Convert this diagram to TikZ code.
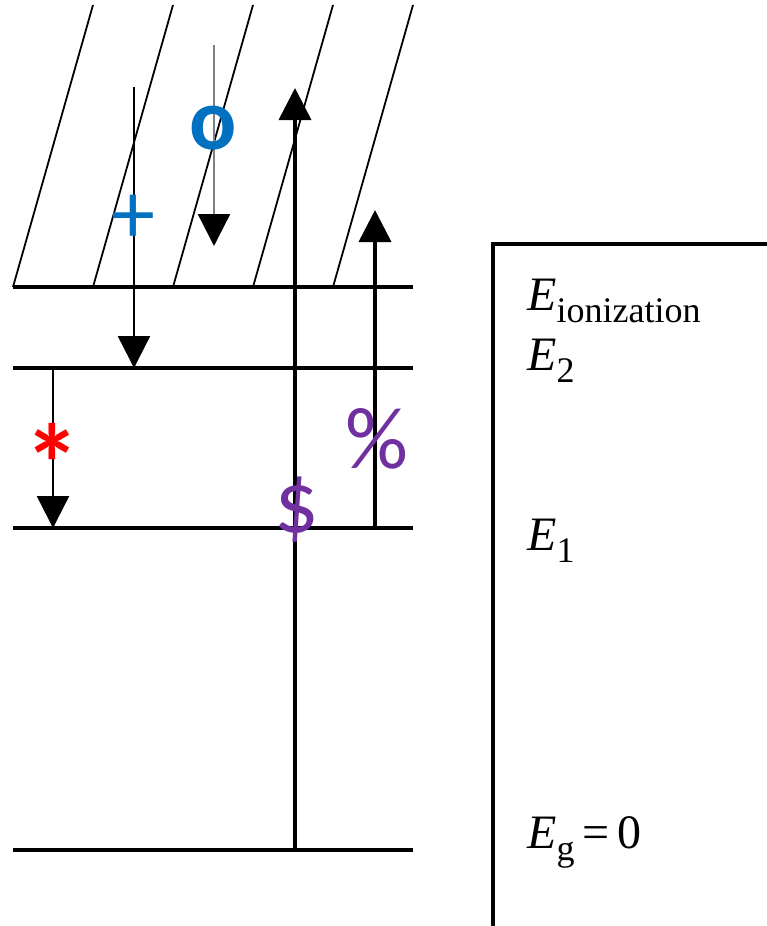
\documentclass[tikz,border=0pt]{standalone}
\usepackage{fontspec}
\setmainfont{Liberation Serif}
\newfontfamily\labfont{Carlito}
\usetikzlibrary{arrows.meta}
\definecolor{lblue}{RGB}{0,112,192}
\definecolor{lpurple}{RGB}{112,48,160}
\definecolor{lred}{RGB}{255,0,0}
\tikzset{
  lvl/.style={line width=3.8pt, line cap=butt},
  hatch/.style={line width=1.8pt},
  thinarr/.style={line width=2.4pt, -{Triangle[width=32pt,length=32pt,color=black]}},
  thickarr/.style={line width=3.6pt, -{Triangle[width=32pt,length=32pt]}},
  sym/.style={inner sep=0pt, font=\labfont\fontsize{88}{88}\selectfont},
  elab/.style={anchor=base west, inner sep=0pt, font=\fontsize{48}{48}\selectfont},
}
\newcommand{\sbs}[1]{\raisebox{-12pt}{\fontsize{36}{36}\selectfont #1}}
\begin{document}
\begin{tikzpicture}[x=1pt,y=-1pt]
\useasboundingbox (0,0) rectangle (767,926);
% levels
\coordinate (ionL) at (13,287); \coordinate (ionR) at (413,287);
\coordinate (e2L) at (13,368);  \coordinate (e2R) at (413,368);
\coordinate (e1L) at (13,528);  \coordinate (e1R) at (413,528);
\coordinate (gL) at (13,850);   \coordinate (gR) at (413,850);
\draw[lvl] (ionL) -- (ionR);
\draw[lvl] (e2L) -- (e2R);
\draw[lvl] (e1L) -- (e1R);
\draw[lvl] (gL) -- (gR);
% hatch
\foreach \i in {0,...,4}{
  \coordinate (hb\i) at (13+80*\i,287);
  \coordinate (ht\i) at (93+80*\i,5);
  \draw[hatch] (hb\i) -- (ht\i);
}
% arrows
\coordinate (plusS) at (134,87);  \coordinate (plusE) at (134,368);
\coordinate (oS) at (214,45);     \coordinate (oE) at (214,246);
\coordinate (dolS) at (295,850);  \coordinate (dolE) at (295,88);
\coordinate (perS) at (375,528);  \coordinate (perE) at (375,210);
\coordinate (astS) at (53,368);   \coordinate (astE) at (53,528);
\draw[thinarr] (plusS) -- (plusE);
\draw[thinarr, draw=black!50] (oS) -- (oE);
\draw[thickarr] (dolS) -- (dolE);
\draw[thickarr] (perS) -- (perE);
\draw[thinarr] (astS) -- (astE);
% symbols
\node[sym, text=lblue] (plus) at (133,219) {+};
\node[sym, text=lblue, font=\labfont\bfseries\fontsize{88}{88}\selectfont] (o) at (213,128) {o};
\node[sym, text=lred, font=\labfont\bfseries\fontsize{112}{112}\selectfont] (ast) at (52,463) {*};
\node[sym, text=lpurple] (per) at (377,439) {\%};
\node[sym, text=lpurple] (dol) at (297,510) {\$};
% box
\draw[line width=3.5pt] (493,940) -- (493,244) -- (780,244);
% labels
\node[elab] (eion) at (527,310) {\textit{E}\sbs{ionization}};
\node[elab] (etwo) at (527,370) {\textit{E}\sbs{2}};
\node[elab] (eone) at (527,550) {\textit{E}\sbs{1}};
\node[elab] (eg) at (527,848) {\textit{E}\sbs{g}\,=\,0};
\end{tikzpicture}
\end{document}
